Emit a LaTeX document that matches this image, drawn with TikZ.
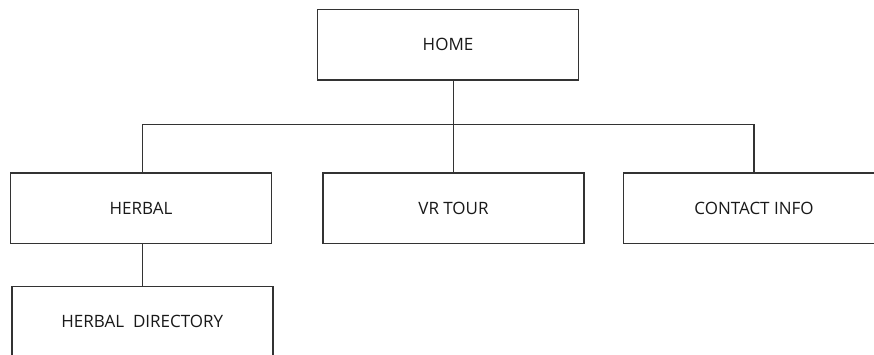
\documentclass[tikz,border=0pt]{standalone}
\usepackage{fontspec}
\setmainfont{Open Sans}
\begin{document}
\begin{tikzpicture}[x=1pt,y=1pt,
  box/.style={draw=linegray, line width=1.5pt, fill=white, inner sep=0pt,
    minimum width=261pt, minimum height=70.5pt, font=\fontsize{17}{19}\selectfont, text=black!90},
  conn/.style={draw=linegray, line width=1.5pt}]
\definecolor{linegray}{HTML}{333333}
\useasboundingbox (0,0) rectangle (874,-354);
\clip (0,0) rectangle (874,-354);
\fill[white] (0,0) rectangle (874,-354);
\node[box] (home) at (448,-44.8) {HOME};
\node[box] (herbal) at (141,-208.2) {HERBAL};
\node[box] (vr) at (453.5,-208) {VR TOUR};
\node[box] (contact) at (754,-208) {CONTACT INFO};
\node[box] (dir) at (142.3,-321.5) {HERBAL\ \ DIRECTORY};
\coordinate (bus) at (0,-124.7);
\draw[conn] (home.south -| vr.north) -- (vr.north);
\draw[conn] (dir.north |- herbal.north) -- (dir.north |- bus) -- (contact.north |- bus) -- (contact.north);
\draw[conn] (dir.north |- herbal.south) -- (dir.north);
\end{tikzpicture}
\end{document}
